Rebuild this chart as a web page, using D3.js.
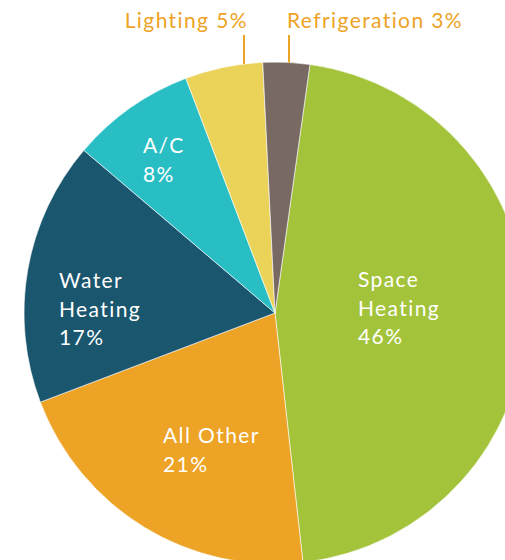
<!DOCTYPE html>
<head>
  <meta charset="utf-8">
  <script src="https://d3js.org/d3.v7.min.js"></script>
  <style>
    body { margin: 0; background: #fff; }
    svg { display: block; }
    text { font-family: 'Lato', sans-serif; letter-spacing: 1.4px; }
  </style>
</head>
<body>
  <svg width="505" height="560"></svg>
  <script>

// data
var categories = ["Space Heating", "All Other", "Water Heating", "A/C", "Lighting", "Refrigeration"];
var shares = [46, 21, 17, 8, 5, 3];
var colors = ["#a3c33b", "#eda325", "#1a566e", "#29bec3", "#ebd35a", "#786a62"];
var insideLines = [["Space", "Heating", "46%"], ["All Other", "21%"], ["Water", "Heating", "17%"], ["A/C", "8%"]];
var outsideLabels = ["Lighting 5%", "Refrigeration 3%"];

// layout
var cx = 275, cy = 313, radius = 251;
var startDeg = 8;
var lineGap = 28.5;
// label block anchors (left x, first baseline) relative to centre
var insideSpots = [[83, -26], [-112, 130], [-216, -25], [-132, -160]];
var leaderX = [-31, 14];

var data = categories.map(function(c, i) { return {name: c, value: shares[i], color: colors[i]}; });

var svg = d3.select("svg");
var g = svg.append("g").attr("transform", "translate(" + cx + "," + cy + ")");

var pie = d3.pie()
    .sort(null)
    .value(function(d) { return d.value; })
    .startAngle(startDeg * Math.PI / 180)
    .endAngle(startDeg * Math.PI / 180 + 2 * Math.PI);

var arc = d3.arc().innerRadius(0).outerRadius(radius);

g.selectAll(".slice")
    .data(pie(data))
    .enter()
    .append("path")
    .attr("class", "slice")
    .attr("d", arc)
    .attr("fill", function(d) { return d.data.color; })
    .attr("stroke", "#fff")
    .attr("stroke-width", 0.6);

// labels inside the slices
insideLines.forEach(function(lines, i) {
  var t = g.append("text")
      .attr("x", insideSpots[i][0])
      .attr("y", insideSpots[i][1])
      .attr("fill", "#fff")
      .style("font-size", "21px");
  lines.forEach(function(l, j) {
    t.append("tspan")
        .attr("x", insideSpots[i][0])
        .attr("y", insideSpots[i][1] + j * lineGap)
        .text(l);
  });
});

// small slices labelled above with leader lines
var labelY = 28 - cy;
outsideLabels.forEach(function(l, i) {
  var x = leaderX[i];
  var yEdge = -Math.sqrt(radius * radius - x * x);
  g.append("line")
      .attr("x1", x).attr("x2", x)
      .attr("y1", labelY + 7).attr("y2", yEdge)
      .attr("stroke", "#eda325")
      .attr("stroke-width", 2);
  g.append("text")
      .attr("x", i == 0 ? x + 4 : x - 2)
      .attr("y", labelY)
      .attr("text-anchor", i == 0 ? "end" : "start")
      .attr("fill", "#eda325")
      .style("font-size", "21px")
      .text(l);
});

  </script>
</body>
